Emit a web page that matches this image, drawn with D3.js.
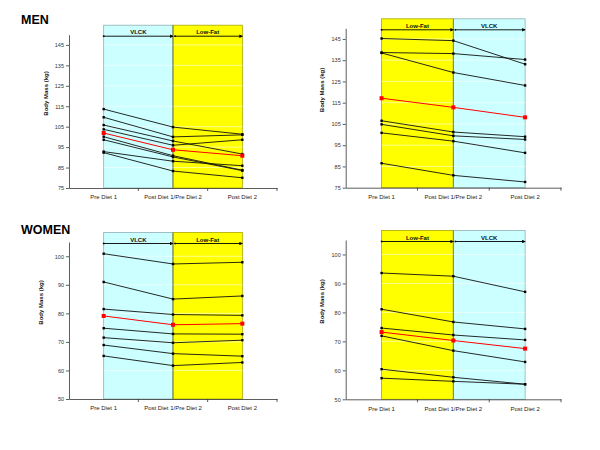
<!DOCTYPE html>
<html><head><meta charset="utf-8">
<script src="https://cdn.jsdelivr.net/npm/d3@7"></script>
<style>body{margin:0;background:#fff}svg{display:block;font-family:"Liberation Sans",Arial,sans-serif}</style>
</head><body><svg id="c" width="600" height="450"></svg>
<script>
const categories = ["Pre Diet 1", "Post Diet 1/Pre Diet 2", "Post Diet 2"];
const menTicks = [75, 85, 95, 105, 115, 125, 135, 145];
const womenTicks = [50, 60, 70, 80, 90, 100];
const menDomain = [75, 150];
const womenDomain = [50, 105];
const vlckFirstPhases = ["VLCK", "Low-Fat"];
const lowFatFirstPhases = ["Low-Fat", "VLCK"];

const menVlckFirst = [[113.6,104.8,101.3],[109.6,100.0,101.0],[105.8,98.0,91.6],[103.7,95.9,98.6],[100.1,90.8,83.7],[98.6,90.2,83.5],[92.8,88.1,85.9],[92.3,83.3,80.0]];
const menVlckFirstMean = [101.9, 93.7, 90.8];
const menLowFatFirst = [[145.2,144.2,133.1],[138.6,138.1,135.3],[138.4,129.2,123.1],[106.5,101.2,99.0],[104.8,99.4,97.7],[100.8,96.9,91.4],[86.5,80.8,77.7]];
const menLowFatFirstMean = [117.1, 112.8, 108.1];
const womenVlckFirst = [[100.9,97.3,97.9],[91.0,85.0,86.1],[81.5,79.6,79.3],[74.8,72.8,72.7],[71.5,69.7,70.6],[68.9,65.9,65.0],[65.1,61.7,62.8]];
const womenVlckFirstMean = [79.1, 76.0, 76.4];
const womenLowFatFirst = [[93.6,92.5,87.1],[81.1,76.7,74.3],[74.6,72.2,70.5],[71.9,66.8,62.9],[60.4,57.6,55.2],[57.3,56.2,55.2]];
const womenLowFatFirstMean = [73.2, 70.3, 67.5];

const svg = d3.select("#c");
const CYAN = "#ccffff", YELLOW = "#ffff00";

svg.append("text").attr("x", 21).attr("y", 24).attr("font-size", 12.5).attr("font-weight", "bold").text("MEN");
svg.append("text").attr("x", 21).attr("y", 234).attr("font-size", 12.5).attr("font-weight", "bold").text("WOMEN");

const panels = [
  {left:69, right:277, top:34.7, bottom:188, domain:menDomain, ticks:menTicks, phases:vlckFirstPhases, subjects:menVlckFirst, mean:menVlckFirstMean, labelX:47.7, labelY:93.5},
  {left:345.7, right:561, top:28.3, bottom:187.7, domain:menDomain, ticks:menTicks, phases:lowFatFirstPhases, subjects:menLowFatFirst, mean:menLowFatFirstMean, labelX:324, labelY:90},
  {left:69, right:277, top:242, bottom:399, domain:womenDomain, ticks:womenTicks, phases:vlckFirstPhases, subjects:womenVlckFirst, mean:womenVlckFirstMean, labelX:43, labelY:302.5},
  {left:345.7, right:561, top:240, bottom:399.3, domain:womenDomain, ticks:womenTicks, phases:lowFatFirstPhases, subjects:womenLowFatFirst, mean:womenLowFatFirstMean, labelX:324, labelY:301.5}
];

const defs = svg.append("defs");
defs.append("marker").attr("id","arr").attr("viewBox","0 0 6 6").attr("refX",5).attr("refY",3)
  .attr("markerWidth",4).attr("markerHeight",4).attr("orient","auto")
  .append("path").attr("d","M0,0L6,3L0,6Z").attr("fill","#000");

panels.forEach(p => {
  const x = d3.scaleBand().domain(categories).range([p.left, p.right]).paddingInner(0).paddingOuter(0);
  const y = d3.scaleLinear().domain(p.domain).range([p.bottom, p.top]);
  const g = svg.append("g");
  const cx = c => x(c) + x.bandwidth() / 2;
  const rectTop = p.top - 9.5;
  const colors = p.phases[0] === "VLCK" ? [CYAN, YELLOW] : [YELLOW, CYAN];
  const strokes = p.phases[0] === "VLCK" ? ["#8fb0b5", "#a8a800"] : ["#a8a800", "#8fb0b5"];
  // shaded diet phases
  [0, 1].forEach(i => {
    const x0 = cx(categories[i]), x1 = cx(categories[i + 1]);
    g.append("rect").attr("x", x0).attr("y", rectTop).attr("width", x1 - x0).attr("height", p.bottom - rectTop)
      .attr("fill", colors[i]).attr("stroke", strokes[i]).attr("stroke-width", 0.8);
  });
  // faint gridlines over colored region
  g.selectAll(".grid").data(p.ticks.filter(t => t !== p.domain[0])).join("line")
    .attr("x1", cx(categories[0])).attr("x2", cx(categories[2]))
    .attr("y1", d => y(d)).attr("y2", d => y(d)).attr("stroke", "#fff").attr("stroke-opacity", 0.7).attr("stroke-width", 0.8);
  // divider
  g.append("line").attr("x1", cx(categories[1])).attr("x2", cx(categories[1])).attr("y1", rectTop).attr("y2", p.bottom)
    .attr("stroke", "#6f7f6f").attr("stroke-width", 0.9);
  // phase arrows and labels
  const arrowY = y(p.domain[1]) + 1.5;
  [0, 1].forEach(i => {
    const x0 = cx(categories[i]) + (i === 1 ? 2 : 0), x1 = cx(categories[i + 1]);
    g.append("line").attr("x1", x0).attr("x2", x1).attr("y1", arrowY).attr("y2", arrowY)
      .attr("stroke", "#000").attr("stroke-width", 0.9).attr("marker-end", "url(#arr)");
    g.append("rect").attr("x", x0 - 0.8).attr("y", arrowY - 0.8).attr("width", 1.6).attr("height", 1.6).attr("fill", "#000");
    g.append("text").attr("x", (cx(categories[i]) + cx(categories[i + 1])) / 2).attr("y", arrowY - 2)
      .attr("text-anchor", "middle").attr("font-size", 6).attr("font-weight", "bold").attr("fill", "#111").text(p.phases[i]);
  });
  // axes
  const ya = d3.axisLeft(y).tickValues(p.ticks).tickSize(3).tickSizeOuter(0).tickPadding(2);
  const yg = g.append("g").attr("transform", `translate(${p.left},0)`).call(ya);
  yg.selectAll("text").attr("font-size", 5.5).attr("fill", "#333").attr("font-family", "Liberation Sans, Arial");
  yg.selectAll("line,path").attr("stroke", "#333").attr("stroke-width", 0.8);
  const xa = d3.axisBottom(x).tickSize(0).tickPadding(7);
  const xg = g.append("g").attr("transform", `translate(0,${p.bottom})`).call(xa);
  xg.selectAll("text").attr("font-size", 6).attr("fill", "#222").attr("font-family", "Liberation Sans, Arial");
  xg.select("path").attr("stroke", "#333").attr("stroke-width", 0.8);
  // boundary ticks
  g.selectAll(".bt").data(categories).join("line")
    .attr("x1", d => x(d) + x.bandwidth()).attr("x2", d => x(d) + x.bandwidth())
    .attr("y1", p.bottom).attr("y2", p.bottom + 3).attr("stroke", "#333").attr("stroke-width", 0.8);
  // y label
  g.append("text").attr("transform", `translate(${p.labelX},${p.labelY}) rotate(-90)`)
    .attr("text-anchor", "middle").attr("font-size", 6).attr("font-weight", "bold").attr("fill", "#111").text("Body Mass (kg)");
  // subject lines
  const line = d3.line().x((d, i) => cx(categories[i])).y(d => y(d));
  g.selectAll(".subj").data(p.subjects).join("path").attr("d", line)
    .attr("fill", "none").attr("stroke", "#111").attr("stroke-width", 0.9);
  p.subjects.forEach(s => {
    g.selectAll(null).data(s).join("rect")
      .attr("x", (d, i) => cx(categories[i]) - 1.2).attr("y", d => y(d) - 1.2)
      .attr("width", 2.4).attr("height", 2.4).attr("fill", "#000");
  });
  g.append("path").datum(p.mean).attr("d", line).attr("fill", "none").attr("stroke", "#ff0000").attr("stroke-width", 1);
  g.selectAll(null).data(p.mean).join("rect")
    .attr("x", (d, i) => cx(categories[i]) - 2).attr("y", d => y(d) - 2)
    .attr("width", 4).attr("height", 4).attr("fill", "#ff0000");
});
</script></body></html>
